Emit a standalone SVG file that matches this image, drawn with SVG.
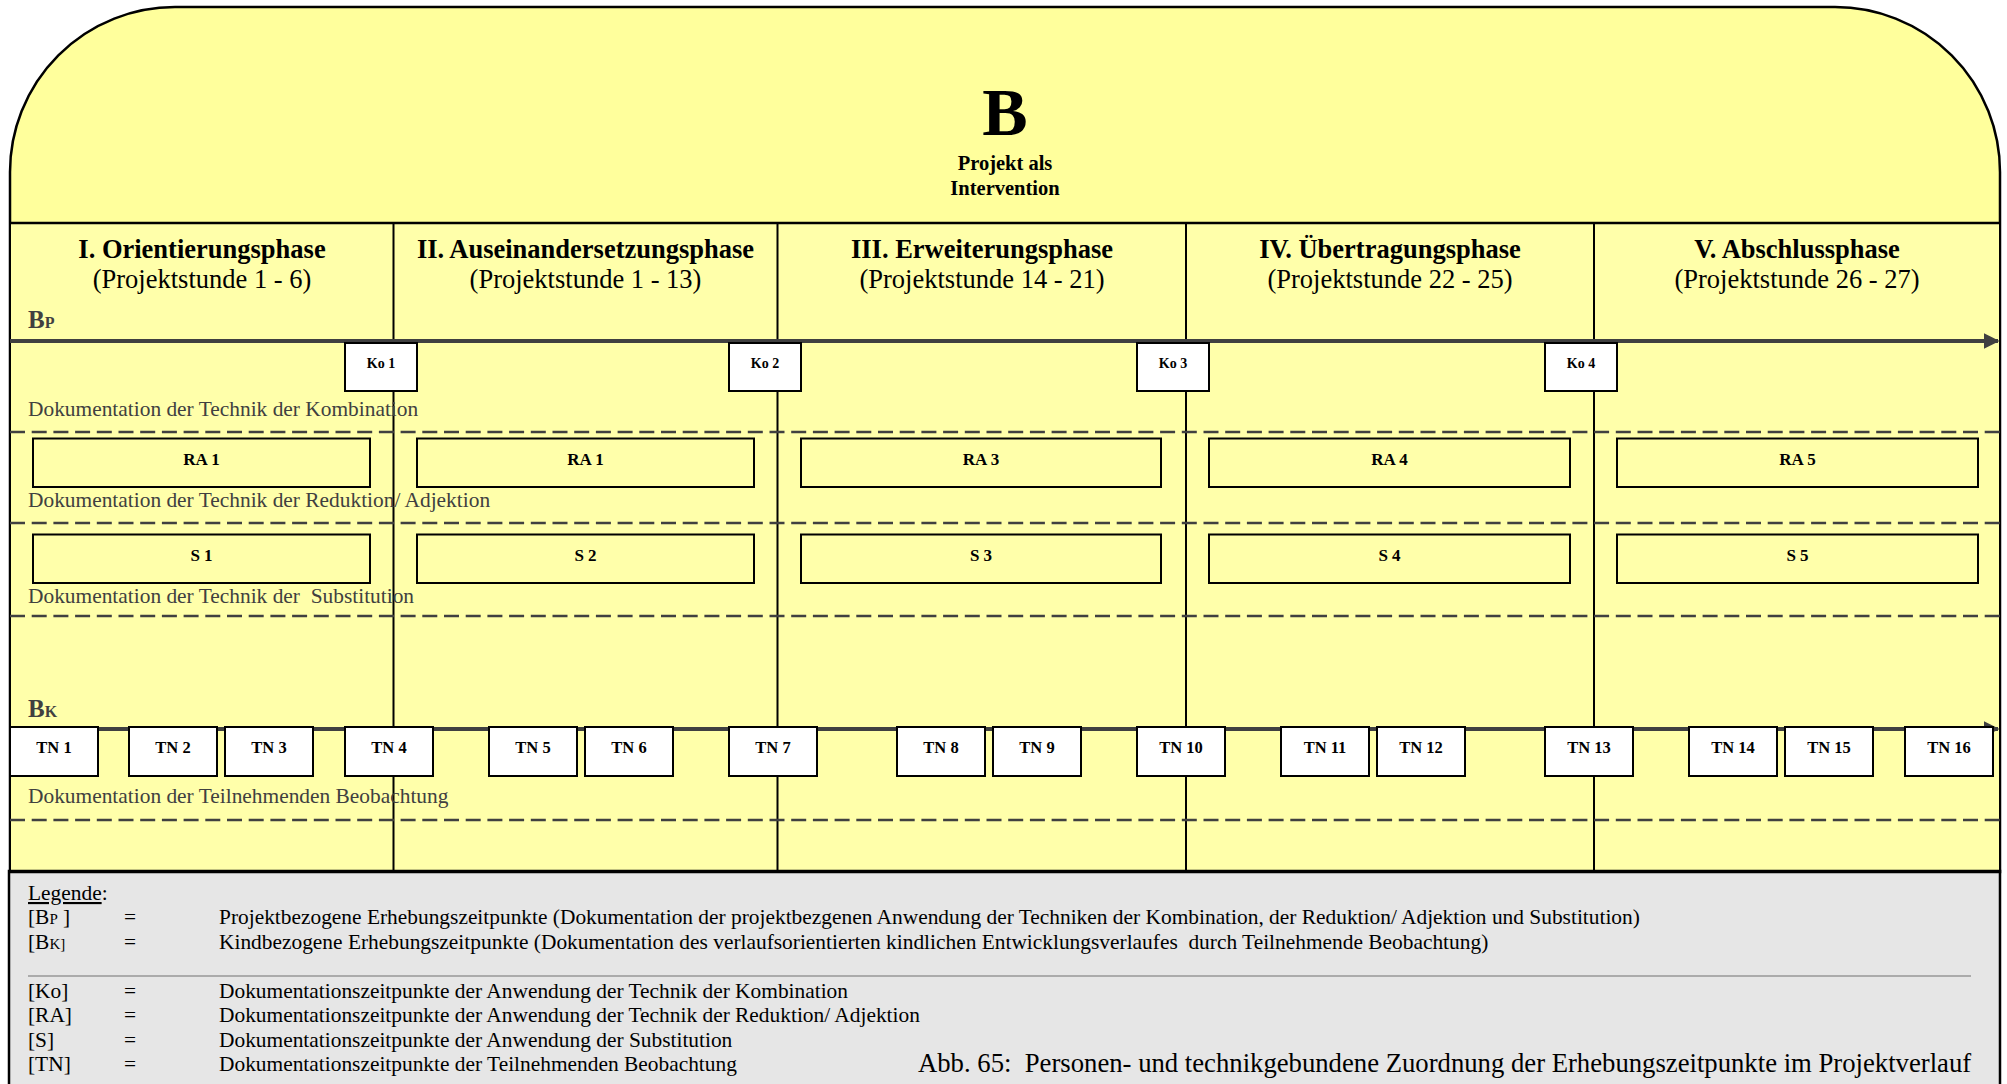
<svg xmlns="http://www.w3.org/2000/svg" width="2007" height="1084" viewBox="0 0 2007 1084">
  <style>
    .frame { stroke: #000; stroke-width: 2.5; }
    .div { stroke: #000; stroke-width: 2; }
    .axis { stroke: #404040; stroke-width: 4; }
    .dash { stroke: #404040; stroke-width: 2.5; stroke-dasharray: 15 6.7; }
    .wbox { fill: #fff; stroke: #000; stroke-width: 2; }
    .ybox { fill: #ffffaa; stroke: #000; stroke-width: 2; }
    .lbl { font-family: "Liberation Serif", "Times New Roman", serif; font-weight: bold; text-anchor: middle; fill: #000; }
    .ko { font-size: 14px; }
    .bx { font-size: 17px; }
    .tn { font-size: 16.5px; }
    .doc { font-family: "Liberation Serif", "Times New Roman", serif; font-size: 21.4px; fill: #404040; }
    .ph { font-family: "Liberation Serif", "Times New Roman", serif; font-size: 26.5px; fill: #000; text-anchor: middle; }
    .phb { font-weight: bold; }
    .ax { font-family: "Liberation Serif", "Times New Roman", serif; font-weight: bold; fill: #404040; }
    .lg { font-family: "Liberation Serif", "Times New Roman", serif; font-size: 21.4px; fill: #000; }
  </style>
  <defs>
    <marker id="arrow" viewBox="0 0 10 10" refX="9" refY="5" markerWidth="4" markerHeight="4" orient="auto" markerUnits="strokeWidth">
      <path d="M0,0 L10,5 L0,10 Z" fill="#404040"/>
    </marker>
  </defs>

  <!-- legend background -->
  <rect x="9" y="871" width="1991" height="220" fill="#e6e6e6" class="frame"/>

  <!-- yellow body with rounded top corners -->
  <path d="M10,872 L10,172 A165,165 0 0 1 175,7 L1835,7 A165,165 0 0 1 2000,172 L2000,872 Z" fill="#ffff9c" class="frame"/>
  <rect x="11" y="224" width="1988" height="647" fill="#ffffaa"/>
  <line x1="10" y1="223" x2="2000" y2="223" class="frame" stroke-width="3"/>
  <line x1="10" y1="871" x2="2000" y2="871" class="frame" stroke-width="3"/>

  <!-- title -->
  <g id="title">
    <text x="1005" y="135" class="lbl" font-size="68">B</text>
    <text x="1005" y="170" class="lbl" font-size="20.5">Projekt als</text>
    <text x="1005" y="195" class="lbl" font-size="20.5">Intervention</text>
  </g>

  <!-- phase headers -->
  <g id="phase1">
    <text x="202" y="258" class="ph phb">I. Orientierungsphase</text>
    <text x="202" y="288" class="ph">(Projektstunde 1 - 6)</text>
  </g>
  <g id="phase2">
    <text x="585.5" y="258" class="ph phb">II. Auseinandersetzungsphase</text>
    <text x="585.5" y="288" class="ph">(Projektstunde 1 - 13)</text>
  </g>
  <g id="phase3">
    <text x="982" y="258" class="ph phb">III. Erweiterungsphase</text>
    <text x="982" y="288" class="ph">(Projektstunde 14 - 21)</text>
  </g>
  <g id="phase4">
    <text x="1390" y="258" class="ph phb">IV. Übertragungsphase</text>
    <text x="1390" y="288" class="ph">(Projektstunde 22 - 25)</text>
  </g>
  <g id="phase5">
    <text x="1797" y="258" class="ph phb">V. Abschlussphase</text>
    <text x="1797" y="288" class="ph">(Projektstunde 26 - 27)</text>
  </g>

  <!-- phase dividers -->
  <g id="dividers">
    <line x1="393.5" y1="223" x2="393.5" y2="871" class="div"/>
    <line x1="777.5" y1="223" x2="777.5" y2="871" class="div"/>
    <line x1="1186" y1="223" x2="1186" y2="871" class="div"/>
    <line x1="1594" y1="223" x2="1594" y2="871" class="div"/>
  </g>

  <!-- row separators and row captions -->
  <g id="rows">
    <line x1="10" y1="432" x2="2000" y2="432" class="dash"/>
    <line x1="10" y1="523" x2="2000" y2="523" class="dash"/>
    <line x1="10" y1="616" x2="2000" y2="616" class="dash"/>
    <line x1="10" y1="820" x2="2000" y2="820" class="dash"/>
    <text x="28" y="416" class="doc">Dokumentation der Technik der Kombination</text>
    <text x="28" y="507" class="doc">Dokumentation der Technik der Reduktion/ Adjektion</text>
    <text x="28" y="603" class="doc" xml:space="preserve">Dokumentation der Technik der  Substitution</text>
    <text x="28" y="803" class="doc">Dokumentation der Teilnehmenden Beobachtung</text>
  </g>

  <!-- timelines -->
  <g id="connectors">
    <line x1="10" y1="341" x2="1998" y2="341" class="axis" marker-end="url(#arrow)"/>
    <line x1="10" y1="729" x2="1998" y2="729" class="axis" marker-end="url(#arrow)"/>
  </g>
  <text x="28" y="328" class="ax" font-size="25">B<tspan font-size="16">P</tspan></text>
  <text x="28" y="717" class="ax" font-size="25">B<tspan font-size="16">K</tspan></text>

  <!-- Ko markers -->
  <g id="ko1"><rect x="345" y="343" width="72" height="48" class="wbox"/><text x="381" y="368" class="lbl ko">Ko 1</text></g>
  <g id="ko2"><rect x="729" y="343" width="72" height="48" class="wbox"/><text x="765" y="368" class="lbl ko">Ko 2</text></g>
  <g id="ko3"><rect x="1137" y="343" width="72" height="48" class="wbox"/><text x="1173" y="368" class="lbl ko">Ko 3</text></g>
  <g id="ko4"><rect x="1545" y="343" width="72" height="48" class="wbox"/><text x="1581" y="368" class="lbl ko">Ko 4</text></g>

  <!-- RA markers -->
  <g id="ra1a"><rect x="33" y="438.5" width="337" height="48.5" class="ybox"/><text x="201.5" y="465" class="lbl bx">RA 1</text></g>
  <g id="ra1b"><rect x="417" y="438.5" width="337" height="48.5" class="ybox"/><text x="585.5" y="465" class="lbl bx">RA 1</text></g>
  <g id="ra3"><rect x="801" y="438.5" width="360" height="48.5" class="ybox"/><text x="981" y="465" class="lbl bx">RA 3</text></g>
  <g id="ra4"><rect x="1209" y="438.5" width="361" height="48.5" class="ybox"/><text x="1389.5" y="465" class="lbl bx">RA 4</text></g>
  <g id="ra5"><rect x="1617" y="438.5" width="361" height="48.5" class="ybox"/><text x="1797.5" y="465" class="lbl bx">RA 5</text></g>

  <!-- S markers -->
  <g id="s1"><rect x="33" y="534.5" width="337" height="48.5" class="ybox"/><text x="201.5" y="561" class="lbl bx">S 1</text></g>
  <g id="s2"><rect x="417" y="534.5" width="337" height="48.5" class="ybox"/><text x="585.5" y="561" class="lbl bx">S 2</text></g>
  <g id="s3"><rect x="801" y="534.5" width="360" height="48.5" class="ybox"/><text x="981" y="561" class="lbl bx">S 3</text></g>
  <g id="s4"><rect x="1209" y="534.5" width="361" height="48.5" class="ybox"/><text x="1389.5" y="561" class="lbl bx">S 4</text></g>
  <g id="s5"><rect x="1617" y="534.5" width="361" height="48.5" class="ybox"/><text x="1797.5" y="561" class="lbl bx">S 5</text></g>

  <!-- TN markers -->
  <g id="tn1"><rect x="10" y="727" width="88" height="49" class="wbox"/><text x="54" y="753" class="lbl tn">TN 1</text></g>
  <g id="tn2"><rect x="129" y="727" width="88" height="49" class="wbox"/><text x="173" y="753" class="lbl tn">TN 2</text></g>
  <g id="tn3"><rect x="225" y="727" width="88" height="49" class="wbox"/><text x="269" y="753" class="lbl tn">TN 3</text></g>
  <g id="tn4"><rect x="345" y="727" width="88" height="49" class="wbox"/><text x="389" y="753" class="lbl tn">TN 4</text></g>
  <g id="tn5"><rect x="489" y="727" width="88" height="49" class="wbox"/><text x="533" y="753" class="lbl tn">TN 5</text></g>
  <g id="tn6"><rect x="585" y="727" width="88" height="49" class="wbox"/><text x="629" y="753" class="lbl tn">TN 6</text></g>
  <g id="tn7"><rect x="729" y="727" width="88" height="49" class="wbox"/><text x="773" y="753" class="lbl tn">TN 7</text></g>
  <g id="tn8"><rect x="897" y="727" width="88" height="49" class="wbox"/><text x="941" y="753" class="lbl tn">TN 8</text></g>
  <g id="tn9"><rect x="993" y="727" width="88" height="49" class="wbox"/><text x="1037" y="753" class="lbl tn">TN 9</text></g>
  <g id="tn10"><rect x="1137" y="727" width="88" height="49" class="wbox"/><text x="1181" y="753" class="lbl tn">TN 10</text></g>
  <g id="tn11"><rect x="1281" y="727" width="88" height="49" class="wbox"/><text x="1325" y="753" class="lbl tn">TN 11</text></g>
  <g id="tn12"><rect x="1377" y="727" width="88" height="49" class="wbox"/><text x="1421" y="753" class="lbl tn">TN 12</text></g>
  <g id="tn13"><rect x="1545" y="727" width="88" height="49" class="wbox"/><text x="1589" y="753" class="lbl tn">TN 13</text></g>
  <g id="tn14"><rect x="1689" y="727" width="88" height="49" class="wbox"/><text x="1733" y="753" class="lbl tn">TN 14</text></g>
  <g id="tn15"><rect x="1785" y="727" width="88" height="49" class="wbox"/><text x="1829" y="753" class="lbl tn">TN 15</text></g>
  <g id="tn16"><rect x="1905" y="727" width="88" height="49" class="wbox"/><text x="1949" y="753" class="lbl tn">TN 16</text></g>

  <!-- legend -->
  <g id="legend" class="lg">
    <text x="28" y="900"><tspan text-decoration="underline">Legende</tspan>:</text>
    <text x="28" y="924">[B<tspan font-size="15">P</tspan> ]</text>
    <text x="124" y="924">=</text>
    <text x="219" y="924">Projektbezogene Erhebungszeitpunkte (Dokumentation der projektbezgenen Anwendung der Techniken der Kombination, der Reduktion/ Adjektion und Substitution)</text>
    <text x="28" y="949">[B<tspan font-size="15">K]</tspan></text>
    <text x="124" y="949">=</text>
    <text x="219" y="949" xml:space="preserve">Kindbezogene Erhebungszeitpunkte (Dokumentation des verlaufsorientierten kindlichen Entwicklungsverlaufes  durch Teilnehmende Beobachtung)</text>
    <line x1="28" y1="976" x2="1971" y2="976" stroke="#707070" stroke-width="1"/>
    <text x="28" y="998">[Ko]</text>
    <text x="124" y="998">=</text>
    <text x="219" y="998">Dokumentationszeitpunkte der Anwendung der Technik der Kombination</text>
    <text x="28" y="1022">[RA]</text>
    <text x="124" y="1022">=</text>
    <text x="219" y="1022">Dokumentationszeitpunkte der Anwendung der Technik der Reduktion/ Adjektion</text>
    <text x="28" y="1047">[S]</text>
    <text x="124" y="1047">=</text>
    <text x="219" y="1047">Dokumentationszeitpunkte der Anwendung der Substitution</text>
    <text x="28" y="1071">[TN]</text>
    <text x="124" y="1071">=</text>
    <text x="219" y="1071">Dokumentationszeitpunkte der Teilnehmenden Beobachtung</text>
    <text x="918" y="1072" font-size="26.7" xml:space="preserve">Abb. 65:  Personen- und technikgebundene Zuordnung der Erhebungszeitpunkte im Projektverlauf</text>
  </g>
</svg>
